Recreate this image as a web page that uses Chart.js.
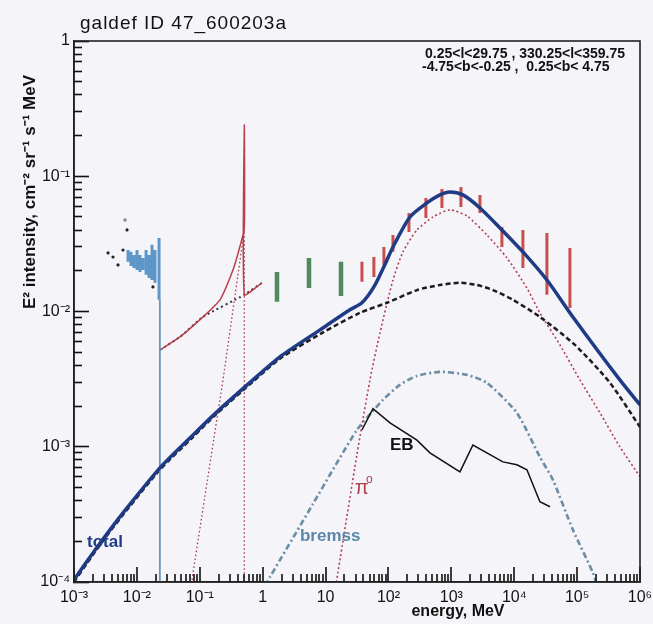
<!DOCTYPE html>
<html><head><meta charset="utf-8">
<script src="https://cdn.jsdelivr.net/npm/chart.js@4.4.0/dist/chart.umd.min.js"></script>
<style>html,body{margin:0;padding:0;background:#f4f4f9;}canvas{display:block;}</style>
</head><body>
<canvas id="c" width="653" height="624"></canvas>
<script>
// ---- axis ticks ----
const xTickValues = [1e-3,1e-2,1e-1,1,10,1e2,1e3,1e4,1e5,1e6];
const xTickLabels = ['10⁻³','10⁻²','10⁻¹','1','10','10²','10³','10⁴','10⁵','10⁶'];
const yTickValues = [1e-4,1e-3,1e-2,1e-1,1];
const yTickLabels = ['10⁻⁴','10⁻³','10⁻²','10⁻¹','1'];
const yMinorValues = [];
for (let d = -4; d <= -1; d++) for (let m = 2; m <= 9; m++) yMinorValues.push(m * Math.pow(10, d));

// ---- model curves (energy MeV, E^2 intensity) ----
const totalE = [0.001,0.002,0.00373,0.00697,0.0233,0.078,0.1875,0.70,1.88,8.15,24.4,37.9,58.7,84.7,118,220,409,659,951,1528,2851,5930,13740,33100,85700,478600,1e6];
const totalI = [1.04e-4,1.64e-4,2.43e-4,3.53e-4,6.98e-4,1.22e-3,1.81e-3,3.12e-3,4.62e-3,7.31e-3,1.03e-2,1.16e-2,1.52e-2,2.14e-2,3.0e-2,5.0e-2,6.35e-2,7.28e-2,7.66e-2,7.28e-2,5.83e-2,4.15e-2,2.76e-2,1.71e-2,9.12e-3,3.12e-3,2.04e-3];

const icE = [0.001,0.002,0.00373,0.00697,0.0233,0.078,0.1875,0.70,1.88,9.1,35.2,94.6,284,659,1371,2553,4585,9530,25600,92300,332600,1e6];
const icI = [1.0e-4,1.59e-4,2.36e-4,3.42e-4,6.77e-4,1.18e-3,1.76e-3,3.03e-3,4.48e-3,7.0e-3,9.77e-3,1.16e-2,1.44e-2,1.57e-2,1.63e-2,1.57e-2,1.44e-2,1.22e-2,9.12e-3,5.66e-3,2.97e-3,1.40e-3];

const pi0E = [13.1,15.7,31.5,50.8,73.3,118,170,284,510,951,1771,3681,7656,15920,25600,53300,110900,230700,478600,1e6];
const pi0I = [6.8e-5,1.17e-4,8.71e-4,3.12e-3,6.95e-3,1.71e-2,2.76e-2,4.01e-2,5.0e-2,5.64e-2,5.09e-2,3.68e-2,2.49e-2,1.49e-2,9.77e-3,5.66e-3,3.12e-3,1.78e-3,9.98e-4,6.0e-4];

const bremE = [1.09,1.31,6.31,31.5,81.8,152,284,659,1771,3681,11040,25600,41200,85700,178200,230700];
const bremI = [9.4e-5,1.09e-4,3.78e-4,1.33e-3,2.22e-3,2.87e-3,3.34e-3,3.58e-3,3.40e-3,2.97e-3,1.78e-3,8.41e-4,5.69e-4,2.43e-4,1.17e-4,8.0e-5];

const ebE = [37.9,56.8,106,284,457,1371,2203,6607,11040,15920,25600,37000];
const ebI = [1.33e-3,1.91e-3,1.50e-3,1.12e-3,9.02e-4,6.52e-4,1.03e-3,7.73e-4,7.35e-4,6.75e-4,3.92e-4,3.60e-4];

const lineSumE = [0.0233,0.0484,0.1125,0.2095,0.337,0.42,0.511,0.511,0.511,0.975];
const lineSumI = [5.2e-3,6.49e-3,9.12e-3,1.22e-2,2.03e-2,2.85e-2,4.15e-2,0.239,1.33e-2,1.63e-2];

const lowContE = [0.0233,0.0484,0.1125,0.511,0.975];
const lowContI = [5.2e-3,6.49e-3,9.12e-3,1.33e-2,1.63e-2];

const positE = [0.0698,0.078,0.234,0.511,0.511];
const positI = [7.4e-5,1.17e-4,3.12e-3,4.01e-2,7e-5];

// ---- data points ----
const spiE  = [0.00723,0.00805,0.00899,0.01005,0.0112,0.0125,0.0140,0.0156,0.0174,0.0194,0.0225];
const spiLo = [0.0233,0.0217,0.0210,0.0203,0.0196,0.0203,0.0187,0.0177,0.0171,0.0163,0.0122];
const spiHi = [0.0285,0.0276,0.0262,0.0285,0.0262,0.0249,0.0285,0.0262,0.0311,0.0285,0.0350];
const spiLineE = [0.0232,0.0232];
const spiLineI = [0.0122,9e-5];

const dotE = [0.00348,0.00417,0.00501,0.00601,0.00697,0.0180];
const dotI = [0.0271,0.0253,0.0221,0.0285,0.0401,0.0152];
const greyDotE = [0.00648];
const greyDotI = [0.0475];

const comptelE  = [1.69,5.45,17.6];
const comptelLo = [0.0118,0.0149,0.0130];
const comptelHi = [0.0196,0.0249,0.0233];

const egretE  = [37.9,58.7,84.7,118,212,394,709,1422,2851,6368,13740,33100,76900];
const egretLo = [0.0166,0.0180,0.0221,0.0276,0.0387,0.0492,0.0583,0.0593,0.0535,0.030,0.0210,0.0133,0.0106];
const egretHi = [0.0233,0.0253,0.030,0.0368,0.0535,0.0691,0.0805,0.0834,0.0728,0.0422,0.0401,0.0381,0.0295];

// ---- helpers ----
const pts = (E, I) => E.map((e, i) => ({x: e, y: I[i]}));
const bars = (E, lo, hi) => E.flatMap((e, i) => [{x: e, y: lo[i]}, {x: e, y: hi[i]}, {x: e, y: null}]);

const BG = '#f4f4f9';
const FONT = '"Liberation Sans", Arial, sans-serif';

const line = (data, color, width, dash, tension) => ({
  data, xAxisID: 'x', yAxisID: 'y', borderColor: color, borderWidth: width, borderDash: dash || [],
  pointRadius: 0, tension: tension || 0, fill: false, clip: 0, spanGaps: false
});

const datasets = [
  line(pts(totalE, totalI), '#1f3b86', 3.5, [], 0.25),
  line(bars(egretE, egretLo, egretHi), '#c8504c', 3, []),
  line(bars(comptelE, comptelLo, comptelHi), '#4e8a5c', 4.5, []),
  line(bars(spiE, spiLo, spiHi), '#5d96c8', 3, []),
  line(pts(spiLineE, spiLineI), '#6a97bb', 1.8, []),
  {data: pts(dotE, dotI), xAxisID: 'x', yAxisID: 'y', showLine: false, pointRadius: 1.6, pointBackgroundColor: '#222', pointBorderWidth: 0, clip: 0},
  {data: pts(greyDotE, greyDotI), xAxisID: 'x', yAxisID: 'y', showLine: false, pointRadius: 1.8, pointBackgroundColor: '#8a8a9a', pointBorderWidth: 0, clip: 0},
  line(pts(ebE, ebI), '#111', 1.5, []),
  line(pts(icE, icI), '#1c1c1c', 2.5, [5, 3], 0.25),
  line(pts(pi0E, pi0I), '#b2404f', 1.6, [2, 2.5], 0.2),
  line(pts(bremE, bremI), '#6b8ea6', 2.6, [6, 3, 2, 3], 0.2),
  line(pts(lineSumE, lineSumI), '#b8404f', 1.5, [], 0.15),
  line(pts(lowContE, lowContI), '#333', 2, [2, 3], 0.15),
  line(pts(positE, positI), '#a8384a', 1.3, [1.5, 2.5], 0)
];

function drawXTicks(chart) {
  const c = chart.ctx, xs = chart.scales.x, ys = chart.scales.y;
  const bottom = Math.round(ys.getPixelForValue(1e-4));
  c.save();
  c.fillStyle = '#111';
  for (let d = -3; d <= 6; d++) {
    for (let m = 1; m <= 9; m++) {
      const v = m * Math.pow(10, d);
      if (v > 1.0001e6) break;
      const px = Math.round(xs.getPixelForValue(v));
      const L = m === 1 ? 15 : 8;
      c.fillRect(px - 0.8, bottom - L, 1.6, L);
    }
  }
  c.restore();
}

const deco = {
  id: 'deco',
  beforeDraw(chart) {
    const c = chart.ctx; c.save(); c.fillStyle = BG; c.fillRect(0, 0, chart.width, chart.height); c.restore();
  },
  afterDraw(chart) {
    drawXTicks(chart);
    const c = chart.ctx, a = chart.chartArea, xs = chart.scales.x, ys = chart.scales.y;
    c.save();
    c.setLineDash([]);
    c.lineWidth = 1.6; c.strokeStyle = '#222';
    c.strokeRect(a.left, a.top, a.right - a.left, a.bottom - a.top);

    // title
    c.fillStyle = '#111'; c.textBaseline = 'alphabetic'; c.textAlign = 'left';
    c.font = '19px ' + FONT; c.letterSpacing = '1px';
    c.fillText('galdef ID 47_600203a', 80, 29);
    c.letterSpacing = '0px';
    // region
    c.font = 'bold 14px ' + FONT;
    c.fillText('0.25<l<29.75 , 330.25<l<359.75', 425, 58);
    c.fillText('-4.75<b<-0.25 ,  0.25<b< 4.75', 422, 71);
    // x title
    c.font = 'bold 16px ' + FONT; c.textAlign = 'center';
    c.fillText('energy, MeV', 458, 616);
    // y title
    c.save(); c.translate(30, 192); c.rotate(-Math.PI / 2);
    c.font = 'bold 17px ' + FONT; c.textAlign = 'center'; c.textBaseline = 'middle';
    c.fillText('E² intensity, cm⁻² sr⁻¹ s⁻¹ MeV', 0, 0);
    c.restore();

    // in-plot labels placed through the scales
    c.textAlign = 'left'; c.textBaseline = 'middle';
    c.font = 'bold 17px ' + FONT; c.fillStyle = '#1f3b86';
    c.fillText('total', xs.getPixelForValue(0.00161), ys.getPixelForValue(1.95e-4));
    c.font = 'bold 17px ' + FONT; c.fillStyle = '#5a88aa';
    c.fillText('bremss', xs.getPixelForValue(3.92), ys.getPixelForValue(2.16e-4));
    c.font = 'bold 17px ' + FONT; c.fillStyle = '#111';
    c.fillText('EB', xs.getPixelForValue(106), ys.getPixelForValue(1.03e-3));
    const px = xs.getPixelForValue(40.8), py = ys.getPixelForValue(5.06e-4);
    c.fillStyle = '#b2404f'; c.font = '20px ' + FONT;
    c.fillText('π', px - 9, py + 2);
    c.font = '12px ' + FONT;
    c.fillText('o', px + 2, py - 7);
    c.restore();
  }
};

new Chart(document.getElementById('c').getContext('2d'), {
  type: 'line',
  data: {datasets},
  options: {
    responsive: false, animation: false, devicePixelRatio: 1,
    layout: {padding: {left: 0, top: 41, right: 13, bottom: 0}},
    plugins: {legend: {display: false}, tooltip: {enabled: false}, title: {display: false}},
    scales: {
      x: {
        type: 'logarithmic', min: 1e-3, max: 1e6, position: 'bottom',
        afterBuildTicks: s => { s.ticks = xTickValues.map(v => ({value: v})); },
        afterFit: s => { s.height = 42; s.paddingLeft = 0; s.paddingRight = 0; },
        ticks: {autoSkip: false, maxRotation: 0, minRotation: 0, padding: 6, color: '#111',
          font: {family: FONT, size: 16}, callback: (v, i) => xTickLabels[i]},
        grid: {display: false, drawTicks: false},
        border: {display: true, color: '#222', width: 1.6}
      },
      y: {
        type: 'logarithmic', min: 1e-4, max: 1, position: 'left', weight: 1,
        afterBuildTicks: s => { s.ticks = yTickValues.map(v => ({value: v})); },
        afterFit: s => { s.width = 74; s.paddingTop = 0; s.paddingBottom = 0; },
        ticks: {autoSkip: false, padding: 19, color: '#111',
          font: {family: FONT, size: 16}, callback: (v, i) => yTickLabels[i]},
        grid: {display: true, drawOnChartArea: false, drawTicks: true, tickLength: -15,
          tickColor: '#111', tickWidth: 1.6},
        border: {display: true, color: '#222', width: 1.6}
      },
      yMinor: {
        type: 'logarithmic', min: 1e-4, max: 1, position: 'left', weight: -1,
        afterBuildTicks: s => { s.ticks = yMinorValues.map(v => ({value: v})); },
        afterFit: s => { s.width = 0; s.paddingTop = 0; s.paddingBottom = 0; },
        ticks: {display: false},
        grid: {display: true, drawOnChartArea: false, drawTicks: true, tickLength: -8,
          tickColor: '#111', tickWidth: 1.6},
        border: {display: false}
      }
    }
  },
  plugins: [deco]
});
</script>
</body></html>
